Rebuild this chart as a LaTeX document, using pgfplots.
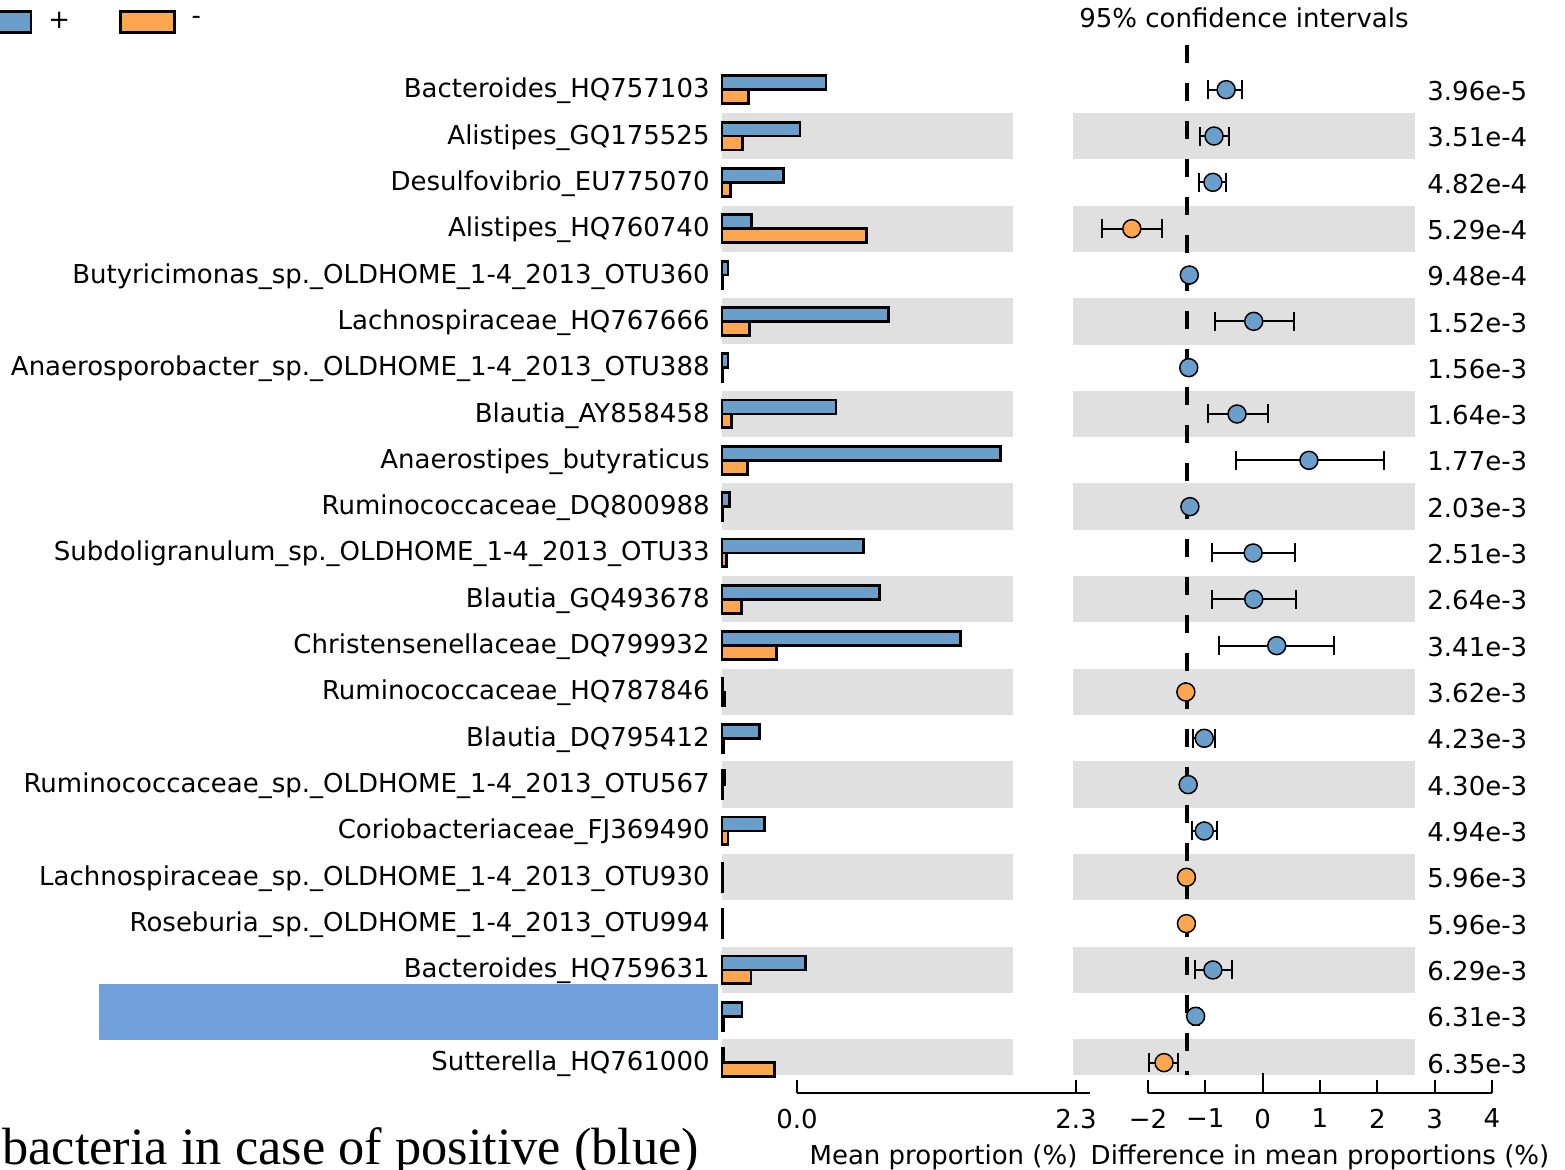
\documentclass[border=0pt]{standalone}
\usepackage{fontspec}
\setmainfont{DejaVu Sans}
\newfontfamily\serifbig{Liberation Serif}
\usepackage{pgfplots}
\usepackage{pgfplotstable}
\pgfplotsset{compat=1.18}
\definecolor{cblue}{HTML}{6A9FCC}
\definecolor{corange}{HTML}{FCA650}
\definecolor{bandgray}{HTML}{E0E0E0}
\definecolor{hideblue}{HTML}{6FA0DB}
\newcommand\fs{\fontsize{13pt}{15.6pt}\selectfont}
\pgfplotsset{boxlegend/.style={legend image code/.code={\draw[##1] (0pt,-5.25pt) rectangle (27pt,5.25pt);}}}

\pgfplotstableread{
row plus minus
0 0.857 0.22
1 0.643 0.17
2 0.51 0.07
3 0.245 1.19
4 0.05 0.005
5 1.37 0.23
6 0.05 0.005
7 0.94 0.08
8 2.30 0.21
9 0.065 0.005
10 1.17 0.04
11 1.30 0.16
12 1.97 0.45
13 0.004 0.02
14 0.31 0.01
15 0.02 0.003
16 0.35 0.05
17 0.005 0.005
18 0.005 0.005
19 0.69 0.24
20 0.165 0.01
21 0.01 0.43
}\bars

\pgfplotstableread{
row diff ep em
0 0.68 0.28 0.31
1 0.47 0.26 0.24
2 0.45 0.23 0.24
4 0.04 0.02 0.02
5 1.16 0.70 0.68
6 0.03 0.02 0.02
7 0.87 0.54 0.51
8 2.12 1.31 1.27
9 0.05 0.02 0.02
10 1.15 0.73 0.71
11 1.16 0.74 0.72
12 1.56 1.00 1.00
14 0.30 0.19 0.20
15 0.02 0.01 0.01
16 0.30 0.22 0.21
19 0.45 0.34 0.31
20 0.15 0.05 0.05
}\cipos

\pgfplotstableread{
row diff ep em
3 -0.96 0.53 0.52
13 -0.02 0.01 0.01
17 -0.01 0.01 0.01
18 -0.01 0.01 0.01
21 -0.40 0.25 0.27
}\cineg

\begin{document}
\begin{tikzpicture}
\useasboundingbox (0,0) rectangle (782.5pt,585pt);
\clip (0,0) rectangle (782.5pt,585pt);

% ---------- bar panel ----------
\begin{axis}[
  at={(361pt,47.5pt)}, anchor=south west, scale only axis,
  width=145.5pt, height=515pt,
  xmin=0, xmax=2.40, ymin=-21.267, ymax=0.965,
  clip=false,
  axis line style={draw=none},
  major tick style={draw=none},
  xtick=\empty,
  ytick={0,-1,...,-21},
  yticklabels={Bacteroides\_HQ757103, Alistipes\_GQ175525, Desulfovibrio\_EU775070, Alistipes\_HQ760740, Butyricimonas\_sp.\_OLDHOME\_1-4\_2013\_OTU360, Lachnospiraceae\_HQ767666, Anaerosporobacter\_sp.\_OLDHOME\_1-4\_2013\_OTU388, Blautia\_AY858458, Anaerostipes\_butyraticus, Ruminococcaceae\_DQ800988, Subdoligranulum\_sp.\_OLDHOME\_1-4\_2013\_OTU33, Blautia\_GQ493678, Christensenellaceae\_DQ799932, Ruminococcaceae\_HQ787846, Blautia\_DQ795412, Ruminococcaceae\_sp.\_OLDHOME\_1-4\_2013\_OTU567, Coriobacteriaceae\_FJ369490, Lachnospiraceae\_sp.\_OLDHOME\_1-4\_2013\_OTU930, Roseburia\_sp.\_OLDHOME\_1-4\_2013\_OTU994, Bacteroides\_HQ759631, {}, Sutterella\_HQ761000},
  yticklabel style={font=\fs, inner sep=0pt, xshift=-6pt, yshift=-0.6pt},
  legend columns=-1,
  legend style={at={(axis description cs:-2.565,1.0225)}, anchor=west, draw=none, fill=none,
    inner sep=0pt, outer sep=0pt, font=\fs, nodes={inner sep=0pt},
    /tikz/every odd column/.append style={column sep=8pt},
    /tikz/every even column/.append style={column sep=24.3pt}},
]
\pgfplotsinvokeforeach{1,3,5,7,9,11,13,15,17,19}{
  \fill[bandgray] (axis cs:0,{-#1-0.5}) rectangle (axis cs:2.40,{-#1+0.5});
}
\fill[bandgray] (axis cs:0,-21.267) rectangle (axis cs:2.40,-20.5);
\addplot[xbar, bar width=0.3, bar shift=0.15, fill=cblue, draw=black, line width=1.4pt, boxlegend]
  table[x=plus, y expr=-\thisrow{row}] {\bars};
\addlegendentry{+}
\addplot[xbar, bar width=0.3, bar shift=-0.15, fill=corange, draw=black, line width=1.4pt, boxlegend]
  table[x=minus, y expr=-\thisrow{row}] {\bars};
\addlegendentry{-}
\end{axis}

% ---------- CI panel ----------
\begin{axis}[
  at={(536.5pt,47.5pt)}, anchor=south west, scale only axis,
  width=171pt, height=515pt,
  xmin=-1.983, xmax=3.965, ymin=-21.267, ymax=0.965,
  clip=false,
  axis line style={draw=none},
  major tick style={draw=none},
  xtick=\empty,
  ytick={0,-1,...,-21},
  yticklabel pos=right,
  yticklabels={3.96e-5, 3.51e-4, 4.82e-4, 5.29e-4, 9.48e-4, 1.52e-3, 1.56e-3, 1.64e-3, 1.77e-3, 2.03e-3, 2.51e-3, 2.64e-3, 3.41e-3, 3.62e-3, 4.23e-3, 4.30e-3, 4.94e-3, 5.96e-3, 5.96e-3, 6.29e-3, 6.31e-3, 6.35e-3},
  yticklabel style={font=\fs, inner sep=0pt, xshift=6pt, yshift=-0.6pt, anchor=west},
  title={95\% confidence intervals},
  title style={font=\fs, at={(axis description cs:0.5,1)}, anchor=base, yshift=2.75pt},
]
\pgfplotsinvokeforeach{1,3,5,7,9,11,13,15,17,19}{
  \fill[bandgray] (axis cs:-1.983,{-#1-0.5}) rectangle (axis cs:3.965,{-#1+0.5});
}
\fill[bandgray] (axis cs:-1.983,-21.267) rectangle (axis cs:3.965,-20.5);
\addplot[black, line width=1.6pt, dash pattern=on 9pt off 10pt] coordinates {(0,0.965) (0,-21.267)};
\addplot[only marks, mark=*, mark size=4.5pt, mark options={fill=cblue, draw=black, line width=0.75pt},
  error bars/.cd, x dir=both, x explicit, error mark=|,
  error bar style={line width=1pt, black},
  error mark options={line width=1pt, black, mark size=4.75pt}]
  table[x=diff, y expr=-\thisrow{row}, x error plus=ep, x error minus=em] {\cipos};
\addplot[only marks, mark=*, mark size=4.5pt, mark options={fill=corange, draw=black, line width=0.75pt},
  error bars/.cd, x dir=both, x explicit, error mark=|,
  error bar style={line width=1pt, black},
  error mark options={line width=1pt, black, mark size=4.75pt}]
  table[x=diff, y expr=-\thisrow{row}, x error plus=ep, x error minus=em] {\cineg};
\end{axis}

% ---------- bottom axes ----------
\begin{axis}[
  at={(398.5pt,38.5pt)}, anchor=south west, scale only axis,
  width=146.5pt, height=10pt,
  xmin=0, xmax=2.4155, ymin=0, ymax=1,
  axis x line*=bottom, axis y line=none,
  xtick={0,2.3}, xticklabels={0.0,2.3},
  tick align=inside, major tick length=6.5pt,
  major tick style={black, line width=1pt},
  axis line style={black, line width=1.25pt, -},
  xticklabel style={font=\fs, inner sep=0pt, yshift=-7.75pt},
  xlabel={Mean proportion (\%)},
  xlabel style={font=\fs, at={(axis description cs:0.5,0)}, anchor=base, yshift=-35.75pt},
]
\end{axis}

\begin{axis}[
  at={(574pt,38.5pt)}, anchor=south west, scale only axis,
  width=172pt, height=10pt,
  xmin=-2, xmax=4, ymin=0, ymax=1,
  axis x line*=bottom, axis y line=none,
  xtick={-2,-1,1,2,3,4}, xticklabels={−2,−1,1,2,3,4},
  extra x ticks={0}, extra x tick labels={0},
  extra x tick style={major tick length=10pt},
  tick align=inside, major tick length=6.5pt,
  major tick style={black, line width=1pt},
  axis line style={black, line width=1.25pt, -},
  xticklabel style={font=\fs, inner sep=0pt, yshift=-7.75pt},
  xlabel={Difference in mean proportions (\%)},
  xlabel style={font=\fs, at={(axis description cs:0.5,0)}, anchor=base, yshift=-35.75pt},
]
\end{axis}

\fill[hideblue] (49.5pt,65pt) rectangle (359pt,93pt);
\node[anchor=base west, inner sep=0pt, font=\serifbig\fontsize{26.2pt}{30pt}\selectfont] at (1pt,2.5pt) {bacteria in case of positive (blue)};
\end{tikzpicture}
\end{document}
